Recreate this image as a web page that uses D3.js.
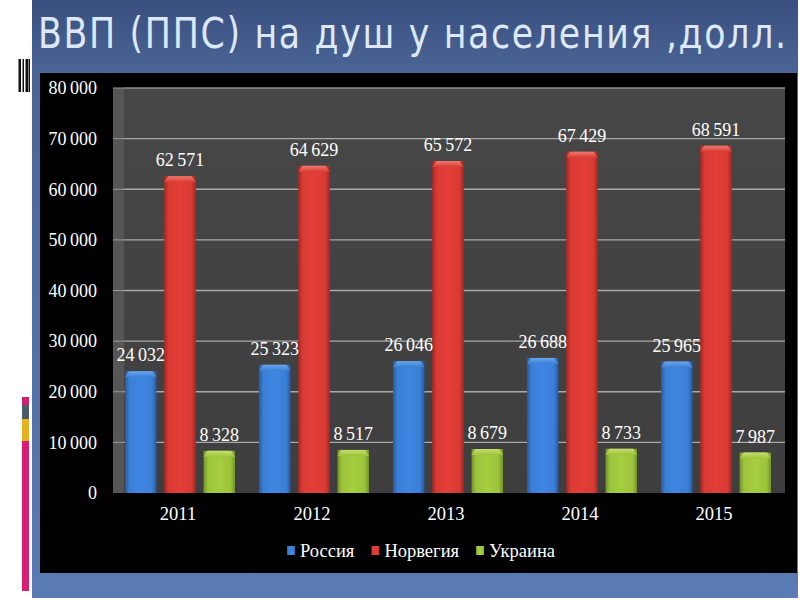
<!DOCTYPE html>
<html><head><meta charset="utf-8">
<script src="https://cdn.jsdelivr.net/npm/d3@7/dist/d3.min.js"></script>
<style>html,body{margin:0;padding:0;background:#fff;}svg{display:block;}</style>
</head><body>
<script>
const title = "ВВП (ППС) на душ у населения ,долл.";
const years = ["2011","2012","2013","2014","2015"];
const seriesNames = ["Россия","Норвегия","Украина"];
const russia = [24032,25323,26046,26688,25965];
const norway = [62571,64629,65572,67429,68591];
const ukraine = [8328,8517,8679,8733,7987];
const yTicks = [0,10000,20000,30000,40000,50000,60000,70000,80000];
const colors = ["#3b7fd6","#d83b34","#9dc33c"];
const darks = ["#245aa6","#a82621","#72942a"];
const lights = ["#6aa6ec","#f07a70","#c4e070"];

const W=800,H=600;
const svg=d3.select("body").append("svg").attr("width",W).attr("height",H);
const defs=svg.append("defs");

// slide background
const bg=defs.append("linearGradient").attr("id","bg").attr("x1",0).attr("y1",0).attr("x2",0).attr("y2",1);
bg.append("stop").attr("offset","0%").attr("stop-color","#394f80");
bg.append("stop").attr("offset","12%").attr("stop-color","#4a6595");
bg.append("stop").attr("offset","100%").attr("stop-color","#5a7bb3");
svg.append("rect").attr("x",32).attr("y",0).attr("width",766).attr("height",598).attr("fill","url(#bg)");

// left decorations
svg.append("rect").attr("x",18).attr("y",59).attr("width",14).attr("height",33).attr("fill","#fff");
[18.5,22.5,25.5,28.5].forEach((x,i)=>svg.append("rect").attr("x",x).attr("y",59).attr("width",i%2?1.5:2.5).attr("height",33).attr("fill","#111"));
svg.append("rect").attr("x",22).attr("y",397).attr("width",7).attr("height",8).attr("fill","#d41f72");
svg.append("rect").attr("x",22).attr("y",405).attr("width",7).attr("height",14).attr("fill","#4e5c68");
svg.append("rect").attr("x",22).attr("y",419).attr("width",7).attr("height",22).attr("fill","#e6b21f");
svg.append("rect").attr("x",22).attr("y",441).attr("width",7).attr("height",150).attr("fill","#d81f74");

// title (scaled horizontally to fit)
const tg=svg.append("g");
const tt=tg.append("text").attr("x",0).attr("y",0)
  .attr("font-family","DejaVu Sans").attr("font-size",42).attr("letter-spacing",2)
  .attr("fill","#dde8f6").text(title);
const natural=tt.node().getComputedTextLength();
tg.attr("transform",`translate(38,48) scale(${750/natural},1)`);

// chart area
svg.append("rect").attr("x",40).attr("y",73).attr("width",757).attr("height",500).attr("fill","#000");

const plotL=113, plotR=783, plotT=88, plotB=493, wall=11;
const x0=d3.scaleBand().domain(years).range([plotL,plotR]).padding(0);
const x1=d3.scaleBand().domain(seriesNames).range([12,x0.bandwidth()-12]).paddingInner(0.2);
const y=d3.scaleLinear().domain([0,80000]).range([plotB,plotT]);

const pg=defs.append("linearGradient").attr("id","pg").attr("x1",0).attr("y1",0).attr("x2",0).attr("y2",1);
pg.append("stop").attr("offset","0%").attr("stop-color","#474747");
pg.append("stop").attr("offset","100%").attr("stop-color","#3e3e3e");
svg.append("rect").attr("x",plotL).attr("y",plotT).attr("width",plotR+2-plotL).attr("height",plotB-plotT).attr("fill","url(#pg)");
svg.append("rect").attr("x",plotL).attr("y",plotT).attr("width",wall).attr("height",plotB-plotT).attr("fill","#565656");

// gridlines
svg.append("g").selectAll("line").data(yTicks).join("line")
  .attr("x1",plotL+wall).attr("x2",plotR+2).attr("y1",d=>y(d)).attr("y2",d=>y(d))
  .attr("stroke",d=>d===80000?"#8c8c8c":"#a8a8a8").attr("stroke-width",d=>d===0?0:1.3);
svg.append("g").selectAll("line").data(yTicks).join("line")
  .attr("x1",plotL).attr("x2",plotL+wall).attr("y1",d=>y(d)).attr("y2",d=>y(d))
  .attr("stroke","#9a9a9a").attr("stroke-width",d=>d===0?0:1);

// y axis
const fmt=d3.formatLocale({decimal:",",thousands:"\u2009",grouping:[3],currency:["",""]}).format(",d");
const yAxis=d3.axisLeft(y).tickValues(yTicks).tickSize(0).tickPadding(0).tickFormat(fmt);
const ga=svg.append("g").attr("transform","translate(97,0)").call(yAxis);
ga.select(".domain").remove();
ga.selectAll("text").attr("fill","#fff").attr("font-family","Liberation Serif").attr("font-size",18);

// x axis
const xAxis=d3.axisBottom(x0).tickSize(0).tickPadding(0);
const gx=svg.append("g").attr("transform","translate(-2,507)").call(xAxis);
gx.select(".domain").remove();
gx.selectAll("text").attr("fill","#fff").attr("font-family","Liberation Serif").attr("font-size",18.5);

// bar gradients
colors.forEach((c,i)=>{
  const g=defs.append("linearGradient").attr("id","bar"+i).attr("x1",0).attr("y1",0).attr("x2",1).attr("y2",0);
  g.append("stop").attr("offset","0%").attr("stop-color",darks[i]);
  g.append("stop").attr("offset","14%").attr("stop-color",c);
  g.append("stop").attr("offset","50%").attr("stop-color",d3.color(c).brighter(0.15));
  g.append("stop").attr("offset","86%").attr("stop-color",c);
  g.append("stop").attr("offset","100%").attr("stop-color",darks[i]);
  const t=defs.append("linearGradient").attr("id","cap"+i).attr("x1",0).attr("y1",0).attr("x2",0).attr("y2",1);
  t.append("stop").attr("offset","0%").attr("stop-color",lights[i]);
  t.append("stop").attr("offset","100%").attr("stop-color",c);
});

const data=[];
years.forEach((yr,j)=>{
  [russia,norway,ukraine].forEach((arr,i)=>data.push({yr,s:seriesNames[i],i,v:arr[j]}));
});
const bars=svg.append("g");
bars.selectAll("rect.bar").data(data).join("rect").attr("class","bar")
  .attr("x",d=>x0(d.yr)+x1(d.s)).attr("width",x1.bandwidth())
  .attr("y",d=>y(d.v)).attr("height",d=>plotB-y(d.v)).attr("fill",d=>`url(#bar${d.i})`);
bars.selectAll("path.cap").data(data).join("path").attr("class","cap")
  .attr("d",d=>{const xa=x0(d.yr)+x1(d.s),w=x1.bandwidth(),yt=y(d.v),h=6;
    return `M${xa},${yt+h}L${xa+4},${yt}L${xa+w-4},${yt}L${xa+w},${yt+h}Z`;})
  .attr("fill",d=>`url(#cap${d.i})`);
bars.selectAll("text").data(data).join("text")
  .attr("x",d=>x0(d.yr)+x1(d.s)+x1.bandwidth()/2).attr("y",d=>y(d.v)-10)
  .attr("text-anchor","middle").attr("fill","#fff")
  .attr("font-family","Liberation Serif").attr("font-size",18).text(d=>fmt(d.v));

// legend
const lg=svg.append("g");
let lx=287;
seriesNames.forEach((s,i)=>{
  lg.append("rect").attr("x",lx).attr("y",546).attr("width",8).attr("height",9).attr("fill",`url(#bar${i})`);
  const t=lg.append("text").attr("x",lx+13).attr("y",557).attr("fill","#fff")
    .attr("font-family","Liberation Serif").attr("font-size",18.5).text(s);
  lx+=13+t.node().getComputedTextLength()+17;
});
</script>
</body></html>
